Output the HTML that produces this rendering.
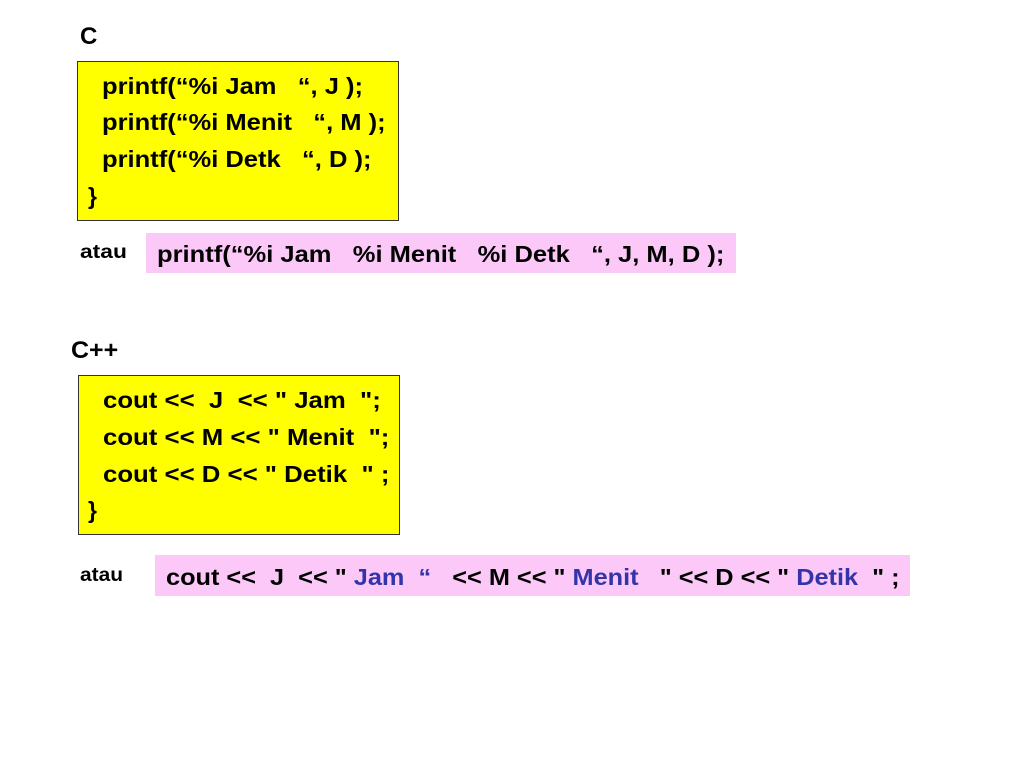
<!DOCTYPE html>
<html><head><meta charset="utf-8"><style>
body{margin:0;width:1024px;height:768px;background:#fff;position:relative;overflow:hidden;font-family:"Liberation Sans",Arial,sans-serif;font-weight:bold;color:#000}
.t{position:absolute;white-space:pre;font-size:23px;line-height:26px}
.box{position:absolute;background:#ffff00;border:1px solid #333}
.pink{position:absolute;background:#fbc8f8}
.c{display:inline-block;transform-origin:0 50%;transform:scaleX(1.11)}
.b{color:#3333aa}
</style></head><body>
<div class="t" style="left:80px;top:24px;font-size:24px">C</div>
<div class="box" style="left:77px;top:61px;width:320px;height:158px"></div>
<div class="t" style="left:102px;top:73px"><span class="c">printf(“%i Jam   “, J );</span></div>
<div class="t" style="left:102px;top:109px"><span class="c">printf(“%i Menit   “, M );</span></div>
<div class="t" style="left:102px;top:146px"><span class="c">printf(“%i Detk   “, D );</span></div>
<div class="t" style="left:88px;top:183px">}</div>
<div class="t" style="left:80px;top:240px;font-size:19px"><span class="c" style="transform:scaleX(1.2)">atau</span></div>
<div class="pink" style="left:146px;top:233px;width:590px;height:40px"></div>
<div class="t" style="left:157px;top:241px"><span class="c">printf(“%i Jam   %i Menit   %i Detk   “, J, M, D );</span></div>

<div class="t" style="left:71px;top:338px;font-size:24px"><span class="c" style="transform:scaleX(1.04)">C++</span></div>
<div class="box" style="left:78px;top:375px;width:320px;height:158px"></div>
<div class="t" style="left:103px;top:387px"><span class="c" style="transform:scaleX(1.12)">cout &lt;&lt;  J  &lt;&lt; " Jam  ";</span></div>
<div class="t" style="left:103px;top:424px"><span class="c" style="transform:scaleX(1.12)">cout &lt;&lt; M &lt;&lt; " Menit  ";</span></div>
<div class="t" style="left:103px;top:461px"><span class="c" style="transform:scaleX(1.12)">cout &lt;&lt; D &lt;&lt; " Detik  " ;</span></div>
<div class="t" style="left:88px;top:497px">}</div>
<div class="t" style="left:80px;top:563px;font-size:19px"><span class="c" style="transform:scaleX(1.1)">atau</span></div>
<div class="pink" style="left:155px;top:555px;width:755px;height:41px"></div>
<div class="t" style="left:166px;top:564px"><span class="c" style="transform:scaleX(1.1)">cout &lt;&lt;  J  &lt;&lt; "<span class="b"> Jam  “ </span>  &lt;&lt; M &lt;&lt; "<span class="b"> Menit   </span>" &lt;&lt; D &lt;&lt; "<span class="b"> Detik  </span>" ;</span></div>
</body></html>
